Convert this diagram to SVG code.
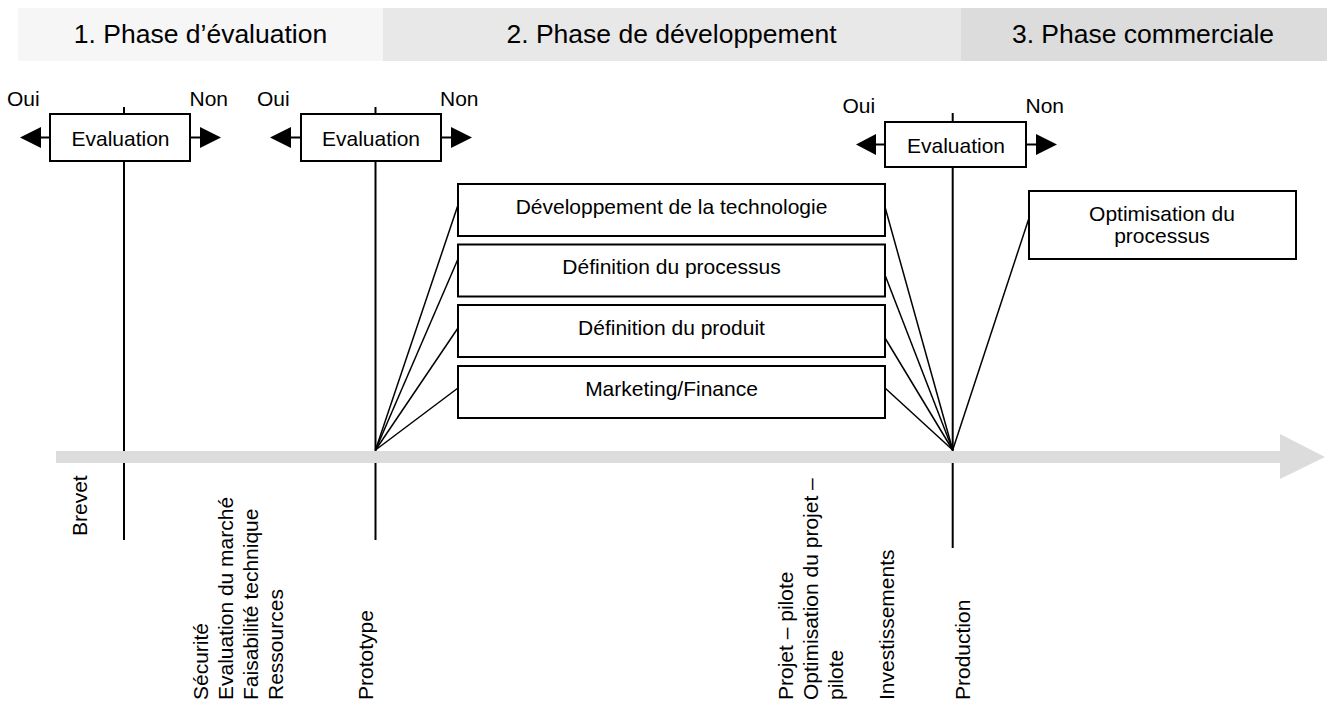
<svg xmlns="http://www.w3.org/2000/svg" width="1334" height="704" viewBox="0 0 1334 704">
<style>
text{font-family:"Liberation Sans",Arial,sans-serif;fill:#000}
.hd{font-size:26.5px;text-anchor:middle}
.t{font-size:21px}
.c{text-anchor:middle}
.d{font-size:21px;text-anchor:middle}
.box{fill:#fff;stroke:#000;stroke-width:2}
.ln{stroke:#000;stroke-width:2;fill:none}
.fan{stroke:#000;stroke-width:1.5;fill:none}
.ah{fill:#000}
</style>
<rect width="1334" height="704" fill="#fff"/>
<g id="header">
<rect x="18" y="8" width="365" height="53" fill="#f6f6f6"/>
<rect x="383" y="8" width="578" height="53" fill="#e8e8e8"/>
<rect x="961" y="8" width="366" height="53" fill="#dcdcdc"/>
<text class="hd" x="200.5" y="42.5">1. Phase d’évaluation</text>
<text class="hd" x="671.5" y="42.5">2. Phase de développement</text>
<text class="hd" x="1143" y="42.5">3. Phase commerciale</text>
</g>
<g id="connectors">
<line class="ln" x1="124" y1="107" x2="124" y2="540"/>
<line class="ln" x1="375.5" y1="107" x2="375.5" y2="540"/>
<line class="ln" x1="952.7" y1="113" x2="952.7" y2="548"/>
<line class="fan" x1="375.5" y1="450" x2="458" y2="205"/>
<line class="fan" x1="375.5" y1="450" x2="458" y2="259"/>
<line class="fan" x1="375.5" y1="450" x2="458" y2="328"/>
<line class="fan" x1="375.5" y1="450" x2="458" y2="388"/>
<line class="fan" x1="952.7" y1="450" x2="885" y2="207"/>
<line class="fan" x1="952.7" y1="450" x2="885" y2="275"/>
<line class="fan" x1="952.7" y1="450" x2="885" y2="338"/>
<line class="fan" x1="952.7" y1="450" x2="885" y2="388"/>
<line class="fan" x1="952.7" y1="450" x2="1029" y2="218"/>
<line class="ln" x1="41" y1="137.5" x2="50" y2="137.5"/>
<polygon class="ah" points="20,137.5 41,127 41,148"/>
<line class="ln" x1="190" y1="137.5" x2="200" y2="137.5"/>
<polygon class="ah" points="221,137.5 200,127 200,148"/>
<line class="ln" x1="291" y1="137.5" x2="301" y2="137.5"/>
<polygon class="ah" points="270,137.5 291,127 291,148"/>
<line class="ln" x1="441" y1="137.5" x2="451" y2="137.5"/>
<polygon class="ah" points="472,137.5 451,127 451,148"/>
<line class="ln" x1="876" y1="144.5" x2="885" y2="144.5"/>
<polygon class="ah" points="856,144.5 876,134 876,155"/>
<line class="ln" x1="1026" y1="144.5" x2="1036" y2="144.5"/>
<polygon class="ah" points="1057,144.5 1036,134 1036,155"/>
</g>
<g id="timeline">
<polygon fill="#dcdcdc" points="56,451 1280,451 1280,434 1325,457 1280,479 1280,463 56,463"/>
</g>
<g id="eval1">
<rect class="box" x="50" y="114" width="140" height="47"/>
<text class="t c" x="120.5" y="145.5">Evaluation</text>
<text class="t" x="7" y="106">Oui</text>
<text class="t" x="189.5" y="106">Non</text>
</g>
<g id="eval2">
<rect class="box" x="301" y="114" width="140" height="47"/>
<text class="t c" x="371" y="145.5">Evaluation</text>
<text class="t" x="257" y="106">Oui</text>
<text class="t" x="440" y="106">Non</text>
</g>
<g id="eval3">
<rect class="box" x="885" y="122" width="141" height="45"/>
<text class="t c" x="956" y="152.5">Evaluation</text>
<text class="t" x="842.5" y="113">Oui</text>
<text class="t" x="1025.5" y="113">Non</text>
</g>
<g id="dev-tech">
<rect class="box" x="458" y="184" width="427" height="52"/>
<text class="d" x="671.5" y="213.5">Développement de la technologie</text>
</g>
<g id="dev-process">
<rect class="box" x="458" y="244.5" width="427" height="52"/>
<text class="d" x="671.5" y="274">Définition du processus</text>
</g>
<g id="dev-product">
<rect class="box" x="458" y="305" width="427" height="52"/>
<text class="d" x="671.5" y="335">Définition du produit</text>
</g>
<g id="dev-marketing">
<rect class="box" x="458" y="366" width="427" height="52"/>
<text class="d" x="671.5" y="396">Marketing/Finance</text>
</g>
<g id="optimisation">
<rect class="box" x="1029" y="191" width="267" height="68"/>
<text class="t c" x="1162" y="221">Optimisation du</text>
<text class="t c" x="1162" y="243">processus</text>
</g>
<g id="milestones">
<text class="t" transform="translate(87,536) rotate(-90)">Brevet</text>
<text class="t" transform="translate(207.5,700) rotate(-90)">Sécurité</text>
<text class="t" transform="translate(232.8,700) rotate(-90)">Evaluation du marché</text>
<text class="t" transform="translate(258.1,700) rotate(-90)">Faisabilité technique</text>
<text class="t" transform="translate(283.4,700) rotate(-90)">Ressources</text>
<text class="t" transform="translate(373,700) rotate(-90)">Prototype</text>
<text class="t" transform="translate(792.5,700) rotate(-90)">Projet – pilote</text>
<text class="t" transform="translate(817.8,700) rotate(-90)">Optimisation du projet –</text>
<text class="t" transform="translate(843.1,700) rotate(-90)">pilote</text>
<text class="t" transform="translate(894,700) rotate(-90)">Investissements</text>
<text class="t" transform="translate(970,700) rotate(-90)">Production</text>
</g>
</svg>
